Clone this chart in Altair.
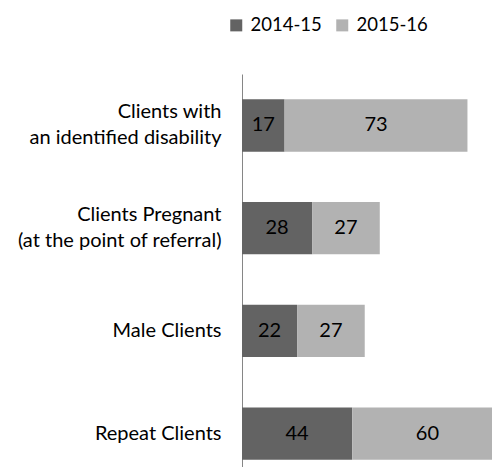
import altair as alt
import pandas as pd

categories = ["Clients with|an identified disability",
              "Clients Pregnant|(at the point of referral)",
              "Male Clients",
              "Repeat Clients"]
series = ["2014-15", "2015-16"]
v_2014_15 = [17, 28, 22, 44]
v_2015_16 = [73, 27, 27, 60]
colors = ["#636363", "#b2b2b2"]

rows = []
for c, a, b in zip(categories, v_2014_15, v_2015_16):
    rows.append({"category": c, "series": series[0], "s_order": 0, "value": a})
    rows.append({"category": c, "series": series[1], "s_order": 1, "value": b})
df = pd.DataFrame(rows)

FONT = "Lato"

yscale = alt.Scale(paddingInner=0.49, paddingOuter=0.158, align=0.778)

yenc = alt.Y("category:N", sort=categories, title=None, scale=yscale,
             axis=alt.Axis(domain=True, domainColor="#868686", domainWidth=1,
                           ticks=False, grid=False, labelPadding=21,
                           labelFont=FONT, labelFontSize=20, labelColor="black",
                           labelExpr="split(datum.label, '|')", labelLineHeight=26,
                           labelOffset={"condition": {"test": "indexof(datum.label, '|') >= 0",
                                                      "value": -13}, "value": 0},
                           labelAlign="right", labelBaseline="middle", labelLimit=300))

base = alt.Chart(df).transform_stack(
    stack="value", groupby=["category"], as_=["x0", "x1"],
    sort=[alt.SortField("s_order", order="ascending")]
).transform_calculate(mid="(datum.x0 + datum.x1) / 2")

xscale = alt.Scale(domain=[0, 99.8], nice=False, zero=True)

bars = base.mark_bar(clip=True).encode(
    y=yenc,
    x=alt.X("x0:Q", scale=xscale, axis=None),
    x2="x1:Q",
    color=alt.Color("series:N", scale=alt.Scale(domain=series, range=colors),
                    legend=alt.Legend(title=None, orient="none", legendX=-15, legendY=-58,
                                      direction="horizontal", symbolType="square",
                                      symbolSize=144, symbolStrokeWidth=0,
                                      labelFont=FONT, labelFontSize=18.5, labelColor="black",
                                      labelOffset=5, columnPadding=11)),
    order=alt.Order("s_order:Q"),
)

text = base.mark_text(font=FONT, fontSize=20, color="black", clip=True).encode(
    y=alt.Y("category:N", sort=categories, scale=yscale),
    x=alt.X("mid:Q", scale=xscale),
    text="value:Q",
)

chart = alt.layer(bars, text).properties(
    width=250, height=393,
    autosize=alt.AutoSizeParams(type="none"),
    padding={"left": 234, "top": 66, "right": 0, "bottom": 0},
).configure_view(stroke=None)

chart.save("out.html", embed_options={"renderer": "svg", "actions": False})
